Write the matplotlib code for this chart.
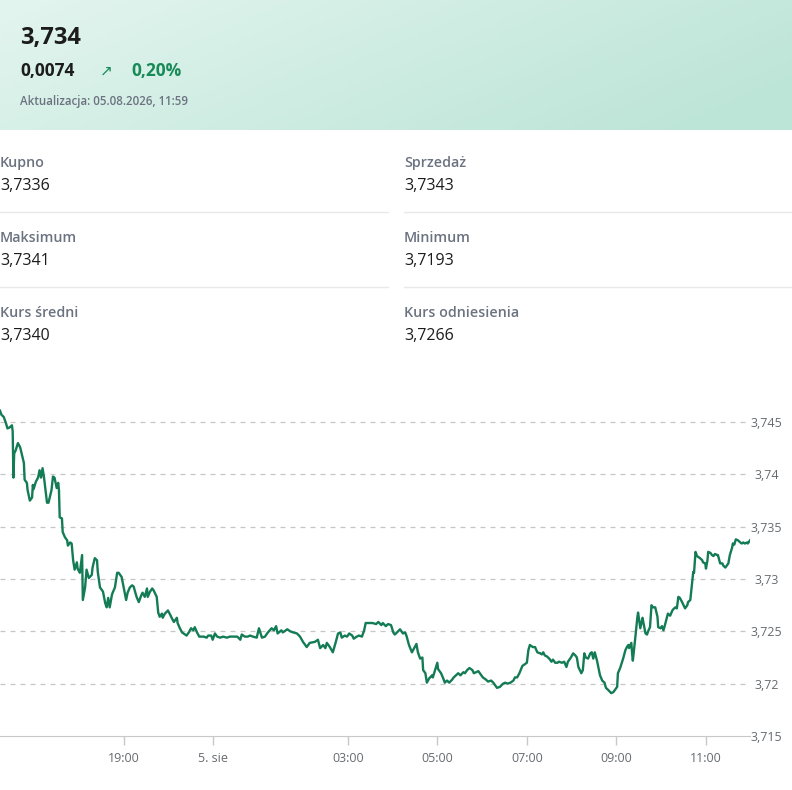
import numpy as np
import matplotlib.pyplot as plt
from matplotlib.colors import to_rgb

plt.rcParams['font.family'] = ['Open Sans', 'DejaVu Sans']

# header values
last_price = '3,734'
change_abs = '0,0074'
change_pct = '0,20%'
updated = 'Aktualizacja: 05.08.2026, 11:59'

# summary table (label, value) for left and right columns
left_labels = ['Kupno', 'Maksimum', 'Kurs średni']
left_values = ['3,7336', '3,7341', '3,7340']
right_labels = ['Sprzedaż', 'Minimum', 'Kurs odniesienia']
right_values = ['3,7343', '3,7193', '3,7266']

# intraday quotes; t = trading minutes from 19:00 (chart time axis)
t = [-166, -164, -161, -158, -156, -153, -150, -149, -148, -147, -145, -142, -139, -137, -134, -133,
     -130, -129, -126, -123, -122, -121, -118, -115, -113, -111, -109, -107, -105, -103, -101, -97,
     -95, -93, -90, -88, -87, -86, -83, -82, -79, -76, -75, -72, -70, -68, -66, -63, -62, -59, -56,
     -55, -52, -50, -47, -43, -42, -39, -36, -35, -32, -28, -25, -23, -21, -19, -16, -15, -12, -9,
     -7, -3, 0, 3, 5, 8, 11, 13, 17, 20, 23, 25, 28, 31, 32, 35, 38, 40, 44, 46, 48, 51, 52, 55, 59,
     62, 64, 67, 71, 72, 75, 78, 80, 84, 87, 90, 93, 95, 98, 101, 105, 107, 111, 113, 117, 119, 122,
     125, 129, 133, 138, 142, 146, 152, 156, 158, 162, 166, 169, 173, 178, 181, 185, 189, 193, 198,
     201, 204, 206, 211, 213, 219, 223, 227, 232, 236, 240, 245, 249, 256, 260, 263, 267, 270, 272,
     276, 280, 284, 287, 290, 292, 296, 299, 302, 306, 308, 312, 315, 319, 322, 324, 327, 333, 338,
     341, 345, 347, 351, 354, 358, 361, 363, 366, 370, 374, 377, 379, 382, 386, 389, 392, 394, 397,
     400, 401, 404, 406, 409, 413, 414, 417, 420, 421, 425, 428, 430, 433, 436, 440, 442, 445, 448,
     451, 455, 457, 460, 463, 467, 469, 472, 475, 479, 481, 485, 488, 492, 495, 497, 500, 504, 508,
     511, 514, 518, 522, 524, 527, 530, 534, 536, 540, 542, 544, 548, 551, 554, 558, 560, 562, 564,
     567, 570, 573, 575, 578, 581, 583, 587, 590, 593, 595, 599, 602, 605, 607, 609, 613, 615, 617,
     619, 622, 625, 627, 629, 631, 634, 638, 641, 644, 646, 649, 653, 656, 658, 661, 662, 665, 668,
     669, 672, 674, 676, 677, 680, 681, 682, 685, 688, 689, 692, 695, 696, 699, 701, 703, 705, 707,
     709, 712, 715, 716, 719, 721, 723, 725, 728, 729, 732, 735, 736, 739, 741, 743, 745, 748, 750,
     752, 755, 756, 759, 762, 763, 764, 766, 768, 770, 772, 775, 776, 779, 780, 782, 783, 786, 788,
     790, 792, 795, 796, 799, 802, 803, 806, 808, 810, 812, 815, 816, 818, 820, 823, 826, 828, 830,
     832, 835, 836, 839]
price = [3.7461, 3.7457, 3.7455, 3.7449, 3.7444, 3.7445, 3.7447, 3.7441, 3.7397, 3.7420, 3.7423,
         3.7430, 3.7426, 3.7420, 3.7411, 3.7395, 3.7392, 3.7385, 3.7375, 3.7378, 3.7390, 3.7386,
         3.7393, 3.7397, 3.7404, 3.7397, 3.7406, 3.7397, 3.7385, 3.7373, 3.7373, 3.7385, 3.7398,
         3.7397, 3.7387, 3.7392, 3.7385, 3.7359, 3.7358, 3.7345, 3.7340, 3.7337, 3.7332, 3.7335,
         3.7334, 3.7318, 3.7309, 3.7316, 3.7310, 3.7306, 3.7323, 3.7280, 3.7292, 3.7309, 3.7301,
         3.7304, 3.7311, 3.7320, 3.7318, 3.7307, 3.7292, 3.7288, 3.7277, 3.7273, 3.7282, 3.7273,
         3.7285, 3.7287, 3.7292, 3.7306, 3.7306, 3.7302, 3.7291, 3.7280, 3.7287, 3.7292, 3.7294,
         3.7293, 3.7283, 3.7278, 3.7284, 3.7287, 3.7283, 3.7291, 3.7283, 3.7288, 3.7291, 3.7289,
         3.7283, 3.7268, 3.7264, 3.7267, 3.7263, 3.7267, 3.7270, 3.7266, 3.7263, 3.7259, 3.7263,
         3.7258, 3.7253, 3.7249, 3.7248, 3.7246, 3.7249, 3.7253, 3.7251, 3.7254, 3.7249, 3.7245,
         3.7245, 3.7245, 3.7244, 3.7246, 3.7246, 3.7242, 3.7248, 3.7245, 3.7244, 3.7245, 3.7244,
         3.7245, 3.7245, 3.7245, 3.7242, 3.7247, 3.7245, 3.7245, 3.7246, 3.7245, 3.7244, 3.7253,
         3.7244, 3.7245, 3.7249, 3.7253, 3.7251, 3.7255, 3.7248, 3.7251, 3.7249, 3.7252, 3.7250,
         3.7249, 3.7248, 3.7245, 3.7240, 3.7235, 3.7239, 3.7240, 3.7242, 3.7234, 3.7237, 3.7234,
         3.7239, 3.7235, 3.7230, 3.7240, 3.7248, 3.7249, 3.7244, 3.7246, 3.7245, 3.7248, 3.7246,
         3.7243, 3.7245, 3.7246, 3.7245, 3.7251, 3.7258, 3.7258, 3.7258, 3.7257, 3.7259, 3.7256,
         3.7258, 3.7255, 3.7257, 3.7256, 3.7249, 3.7247, 3.7249, 3.7252, 3.7248, 3.7249, 3.7245,
         3.7237, 3.7230, 3.7234, 3.7238, 3.7230, 3.7224, 3.7225, 3.7213, 3.7210, 3.7201, 3.7205,
         3.7208, 3.7206, 3.7213, 3.7220, 3.7214, 3.7210, 3.7205, 3.7201, 3.7203, 3.7201, 3.7204,
         3.7206, 3.7208, 3.7210, 3.7208, 3.7211, 3.7210, 3.7213, 3.7215, 3.7213, 3.7210, 3.7211,
         3.7212, 3.7208, 3.7206, 3.7204, 3.7202, 3.7203, 3.7201, 3.7199, 3.7196, 3.7197, 3.7200,
         3.7201, 3.7200, 3.7201, 3.7203, 3.7206, 3.7206, 3.7210, 3.7217, 3.7218, 3.7220, 3.7232,
         3.7237, 3.7235, 3.7235, 3.7230, 3.7229, 3.7228, 3.7230, 3.7227, 3.7226, 3.7224, 3.7221,
         3.7223, 3.7220, 3.7220, 3.7221, 3.7220, 3.7221, 3.7216, 3.7221, 3.7225, 3.7229, 3.7227,
         3.7225, 3.7216, 3.7210, 3.7213, 3.7229, 3.7225, 3.7224, 3.7229, 3.7230, 3.7224, 3.7230,
         3.7222, 3.7208, 3.7203, 3.7201, 3.7196, 3.7194, 3.7191, 3.7192, 3.7194, 3.7197, 3.7210,
         3.7215, 3.7222, 3.7224, 3.7232, 3.7235, 3.7237, 3.7234, 3.7239, 3.7229, 3.7222, 3.7242,
         3.7263, 3.7268, 3.7253, 3.7263, 3.7259, 3.7248, 3.7247, 3.7251, 3.7254, 3.7275, 3.7273,
         3.7273, 3.7264, 3.7254, 3.7253, 3.7255, 3.7251, 3.7256, 3.7264, 3.7267, 3.7265, 3.7270,
         3.7271, 3.7273, 3.7272, 3.7283, 3.7282, 3.7278, 3.7275, 3.7272, 3.7275, 3.7278, 3.7280,
         3.7301, 3.7307, 3.7306, 3.7326, 3.7322, 3.7321, 3.7320, 3.7318, 3.7316, 3.7315, 3.7310,
         3.7318, 3.7326, 3.7325, 3.7323, 3.7322, 3.7324, 3.7323, 3.7323, 3.7315, 3.7315, 3.7313,
         3.7311, 3.7313, 3.7315, 3.7323, 3.7330, 3.7334, 3.7333, 3.7338, 3.7337, 3.7335, 3.7334,
         3.7335, 3.7334, 3.7335, 3.7334, 3.7337]

tick_pos = [0, 120, 300, 420, 540, 660, 780]
tick_lab = ['19:00', '5. sie', '03:00', '05:00', '07:00', '09:00', '11:00']
y_ticks = [3.715, 3.72, 3.725, 3.73, 3.735, 3.74, 3.745]
y_labs = ['3,715', '3,72', '3,725', '3,73', '3,735', '3,74', '3,745']

W, H = 792, 790
fig = plt.figure(figsize=(W / 100, H / 100), dpi=100)

# header gradient background
bg = fig.add_axes([0, 0, 1, 1])
bg.set_xlim(0, W); bg.set_ylim(H, 0); bg.axis('off')
c1 = np.array(to_rgb('#e3f5ef')); c2 = np.array(to_rgb('#bde5d7'))
u, v = np.meshgrid(np.linspace(0, 1, 200), np.linspace(0, 1, 40))
mix = np.clip(0.8 * u + 0.3 * v, 0, 1)[..., None]
bg.imshow(c1 * (1 - mix) + c2 * mix, extent=[0, W, 130, 0], aspect='auto', zorder=0)

dark = '#1c1c1c'; grey = '#6b7280'; green = '#178a57'
bg.text(20, 38, last_price, fontsize=17, fontweight='bold', color=dark, va='center')
bg.text(20, 71, change_abs, fontsize=12.5, fontweight='bold', color=dark, va='center')
bg.text(100, 71, '↗', fontsize=11, color=green, va='center', family='DejaVu Sans')
bg.text(131, 71, change_pct, fontsize=12.5, fontweight='bold', color=green, va='center')
bg.text(20, 101, updated, fontsize=8.3, fontweight='semibold', color=grey, va='center')

# summary rows
rows_y = [163, 238, 313]
for i in range(3):
    y0 = rows_y[i]
    bg.text(0, y0, left_labels[i], fontsize=10.3, fontweight='semibold', color=grey, va='center')
    bg.text(0, y0 + 23, left_values[i], fontsize=11.5, fontweight='medium', color=dark, va='center')
    bg.text(404, y0, right_labels[i], fontsize=10.3, fontweight='semibold', color=grey, va='center')
    bg.text(404, y0 + 23, right_values[i], fontsize=11.5, fontweight='medium', color=dark, va='center')
    if i < 2:
        bg.plot([0, 388], [y0 + 49, y0 + 49], color='#e6e8ea', lw=1)
        bg.plot([404, 792], [y0 + 49, y0 + 49], color='#e6e8ea', lw=1)

# chart
ax = fig.add_axes([0, (H - 736) / H, 750 / W, 340 / H])
ax.plot(t, price, color='#137c55', lw=1.7, solid_joinstyle='round')
ax.set_xlim(-166, 839)
ax.set_ylim(3.715, 3.7475)
ax.set_facecolor('none')
for s in ['top', 'left', 'right']:
    ax.spines[s].set_visible(False)
ax.spines['bottom'].set_color('#c8c8c8')
ax.yaxis.tick_right()
ax.set_yticks(y_ticks)
ax.set_yticklabels(y_labs)
for lab in ax.get_yticklabels():
    lab.set_horizontalalignment('center')
ax.tick_params(axis='y', length=0, pad=12, labelsize=9, labelcolor='#666b70')
ax.set_xticks(tick_pos)
ax.set_xticklabels(tick_lab)
ax.tick_params(axis='x', length=6.5, width=1, color='#c8c8c8', pad=5, labelsize=9, labelcolor='#666b70')
for yv in y_ticks[1:]:
    ax.axhline(yv, color='#c6c6c6', lw=0.9, ls=(0, (4, 4)), zorder=0)

fig.savefig('out.png', dpi=100)
